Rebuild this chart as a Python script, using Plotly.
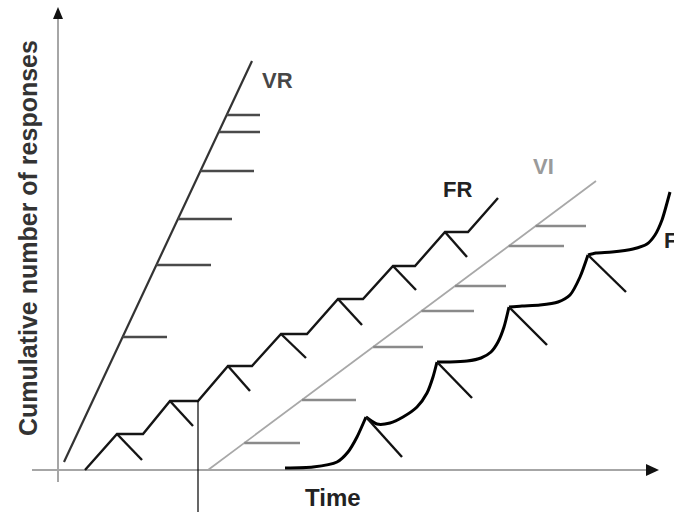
import plotly.graph_objects as go
import numpy as np

# ---------------- data (time units, cumulative responses) ----------------
vr_time = [64, 252]
vr_resp = [8, 409]
vr_rf_resp = [355, 338, 299, 251, 205, 133]
vr_rf_end = [260, 260, 254, 232, 211, 167]

fr_time = [85, 117, 143, 170, 198, 228, 252, 281, 307, 338, 363, 393, 415, 445, 468, 498]
fr_resp = [0, 36, 36, 69, 69, 104, 104, 136, 136, 171, 171, 204, 204, 238, 238, 272]
fr_peak_idx = [1, 3, 5, 7, 9, 11, 13]
fr_rf_end_time = [142, 193, 250, 306, 362, 416, 467]
fr_rf_end_resp = [10, 44, 79, 112, 145, 180, 213]

marker_time = [198, 198]
marker_resp = [69, -42]

vi_time = [208, 596]
vi_resp = [0, 289]
vi_rf_resp = [27, 70, 123, 159, 184, 224, 244]
vi_rf_end = [300, 356, 423, 474, 506, 564, 586]

fi_time = [285, 313, 337, 348, 357, 366, 377, 390, 403, 417, 427, 433, 437,
           450, 467, 481, 491, 498, 504, 509, 522, 540, 558, 570, 580, 588,
           596, 612, 633, 647, 655, 662, 667, 670]
fi_resp = [2, 3, 8, 18, 33, 53, 46, 47, 53, 63, 77, 93, 108,
           108, 109, 112, 118, 128, 143, 163, 164, 165, 168, 175, 193, 215,
           217, 218, 221, 226, 235, 250, 267, 278]
fi_peak_idx = [5, 12, 19, 25]
fi_rf_end_time = [402, 472, 547, 626]
fi_rf_end_resp = [13, 72, 125, 178]

labels = ["VR", "FR", "VI", "FI"]
y_title = "Cumulative number of responses"
x_title = "Time"

# ---------------- styling / layout constants ----------------
W, H = 674, 512
X_RANGE = [0, 674]
Y_RANGE = [-42, 470]
FONT = "Liberation Sans, Arial, sans-serif"
AXIS_COLOR = "#a6a6a6"

fig = go.Figure()

def seg(x0, y0, x1, y1, color, width):
    fig.add_trace(go.Scatter(x=[x0, x1], y=[y0, y1], mode="lines",
                             line=dict(color=color, width=width),
                             hoverinfo="skip", showlegend=False))

# axes (drawn as diagram lines)
AX_X = 58       # time origin of y axis
seg(32, 0, 648, 0, AXIS_COLOR, 2)
seg(AX_X, -12, AX_X, 452, AXIS_COLOR, 2)

# VR
fig.add_trace(go.Scatter(x=vr_time, y=vr_resp, mode="lines",
                         line=dict(color="#333333", width=2.2),
                         showlegend=False, hoverinfo="skip"))
for r, xe in zip(vr_rf_resp, vr_rf_end):
    xs = float(np.interp(r, vr_resp, vr_time))
    seg(xs, r, xe, r, "#4a4a4a", 2.5)

# VI
fig.add_trace(go.Scatter(x=vi_time, y=vi_resp, mode="lines",
                         line=dict(color="#a8a8a8", width=1.8),
                         showlegend=False, hoverinfo="skip"))
for r, xe in zip(vi_rf_resp, vi_rf_end):
    xs = float(np.interp(r, vi_resp, vi_time))
    seg(xs, r, xe, r, "#8a8a8a", 2.5)

# FR
fig.add_trace(go.Scatter(x=fr_time, y=fr_resp, mode="lines",
                         line=dict(color="#151515", width=2.4),
                         showlegend=False, hoverinfo="skip"))
for i, xe, ye in zip(fr_peak_idx, fr_rf_end_time, fr_rf_end_resp):
    seg(fr_time[i], fr_resp[i], xe, ye, "#151515", 2.4)

# marker line
fig.add_trace(go.Scatter(x=marker_time, y=marker_resp, mode="lines",
                         line=dict(color="#000000", width=1.2),
                         showlegend=False, hoverinfo="skip"))

# FI scallops
bounds = [0] + fi_peak_idx + [len(fi_time) - 1]
for a, b in zip(bounds[:-1], bounds[1:]):
    fig.add_trace(go.Scatter(x=fi_time[a:b + 1], y=fi_resp[a:b + 1], mode="lines",
                             line=dict(color="#000000", width=3, shape="spline",
                                       smoothing=0.7),
                             showlegend=False, hoverinfo="skip"))
for i, xe, ye in zip(fi_peak_idx, fi_rf_end_time, fi_rf_end_resp):
    seg(fi_time[i], fi_resp[i], xe, ye, "#111111", 2.4)

shapes = [
    dict(type="path", xref="x", yref="y",
         path="M 646 6 L 659 0 L 646 -6 Z", fillcolor="#111111", line=dict(width=0)),
    dict(type="path", xref="x", yref="y",
         path=f"M {AX_X-5} 451 L {AX_X} 463 L {AX_X+5} 451 Z", fillcolor="#111111",
         line=dict(width=0)),
]

annotations = [
    dict(x=277, y=390, text="<b>VR</b>", font=dict(size=22, color="#474747")),
    dict(x=457, y=281, text="<b>FR</b>", font=dict(size=22, color="#222222")),
    dict(x=543, y=304, text="<b>VI</b>", font=dict(size=22, color="#9a9a9a")),
    dict(x=662, y=230, text="<b>FI</b>", xanchor="left", font=dict(size=22, color="#222222")),
    dict(x=28, y=232, text=f"<b>{y_title}</b>", textangle=-90,
         font=dict(size=25, color="#333333")),
    dict(x=333, y=-27, text=f"<b>{x_title}</b>", font=dict(size=24, color="#222222")),
]
for a in annotations:
    a.update(xref="x", yref="y", showarrow=False)
    a.setdefault("xanchor", "center")
    a.setdefault("yanchor", "middle")
    a["font"]["family"] = FONT

fig.update_layout(
    width=W, height=H, margin=dict(l=0, r=0, t=0, b=0),
    paper_bgcolor="white", plot_bgcolor="white",
    xaxis=dict(range=X_RANGE, visible=False, fixedrange=True),
    yaxis=dict(range=Y_RANGE, visible=False, fixedrange=True),
    shapes=shapes, annotations=annotations, showlegend=False,
)
fig.write_html("out.html", config={"displayModeBar": False},
               post_script="document.body.style.margin='0';document.body.style.overflow='hidden';")
